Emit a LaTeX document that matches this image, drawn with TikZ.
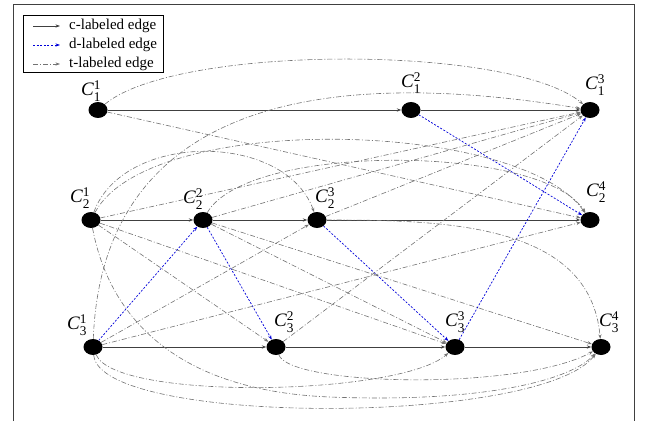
\documentclass[tikz,border=0pt]{standalone}
\usepackage{amsmath}
\usepackage{fontspec}
\setmainfont{Liberation Serif}
\usetikzlibrary{shapes.geometric,arrows.meta}
\newcommand{\Clab}[2]{\textit{C}$^{\text{#1}}_{\text{#2}}$}
\begin{document}
\begin{tikzpicture}[x=1pt,y=1pt,
 vert/.style={ellipse,fill=black,minimum width=19pt,minimum height=16pt,inner sep=0pt},
 lab/.style={font=\fontsize{19}{20}\selectfont,inner sep=0pt},
 tip/.style={-{Stealth[length=4.5pt,width=3.2pt]}},
 cedge/.style={draw=black!75,line width=0.7pt,tip},
 dedge/.style={draw=blue!85!black,line width=0.7pt,dash pattern=on 2pt off 1.6pt,tip},
 tedge/.style={draw=black!55,line width=0.6pt,dash pattern=on 5pt off 2pt on 1pt off 2pt,tip},
 legtext/.style={font=\fontsize{15}{16}\selectfont,anchor=west,inner sep=0pt}]
\useasboundingbox (0,0) rectangle (647,421);
% frame
\coordinate (fa) at (13,0); \coordinate (fb) at (13,417);
\coordinate (fc) at (634,417); \coordinate (fd) at (634,0);
\draw[black!75,line width=0.9pt] (fa) -- (fb) -- (fc) -- (fd);
% legend
\node[draw=black,line width=0.8pt,minimum width=140pt,minimum height=57pt,inner sep=0pt] (legend) at (93,377.5) {};
\coordinate (la1) at (33,395); \coordinate (lb1) at (60,395);
\coordinate (la2) at (33,376); \coordinate (lb2) at (60,376);
\coordinate (la3) at (33,357); \coordinate (lb3) at (60,357);
\draw[cedge] (la1) -- (lb1);
\draw[dedge] (la2) -- (lb2);
\draw[tedge] (la3) -- (lb3);
\node[legtext] (lt1) at (69,395) {c-labeled edge};
\node[legtext] (lt2) at (69,376) {d-labeled edge};
\node[legtext] (lt3) at (69,357) {t-labeled edge};
% vertices
\node[vert] (C11) at (98,311) {};
\node[vert] (C12) at (411,311) {};
\node[vert] (C13) at (590,311) {};
\node[vert] (C21) at (91,201) {};
\node[vert] (C22) at (203,201) {};
\node[vert] (C23) at (317,201) {};
\node[vert] (C24) at (590,201) {};
\node[vert] (C31) at (93,74) {};
\node[vert] (C32) at (276,74) {};
\node[vert] (C33) at (455,74) {};
\node[vert] (C34) at (601,74) {};
% labels
\node[lab] (L11) at ([shift={(-7,19)}]C11) {\Clab{1}{1}};
\node[lab] (L12) at ([shift={(0,27)}]C12) {\Clab{2}{1}};
\node[lab] (L13) at ([shift={(5,25)}]C13) {\Clab{3}{1}};
\node[lab] (L21) at ([shift={(-11,22)}]C21) {\Clab{1}{2}};
\node[lab] (L22) at ([shift={(-10,21)}]C22) {\Clab{2}{2}};
\node[lab] (L23) at ([shift={(8,22)}]C23) {\Clab{3}{2}};
\node[lab] (L24) at ([shift={(6,28)}]C24) {\Clab{4}{2}};
\node[lab] (L31) at ([shift={(-16,22)}]C31) {\Clab{1}{3}};
\node[lab] (L32) at ([shift={(8,25)}]C32) {\Clab{2}{3}};
\node[lab] (L33) at ([shift={(0,25)}]C33) {\Clab{3}{3}};
\node[lab] (L34) at ([shift={(8,25)}]C34) {\Clab{4}{3}};
% c-labeled edges
\draw[cedge] (C11) -- (C12);
\draw[cedge] (C12) -- (C13);
\draw[cedge] (C21) -- (C22);
\draw[cedge] (C22) -- (C23);
\draw[cedge] (C23) -- (C24);
\draw[cedge] (C31) -- (C32);
\draw[cedge] (C32) -- (C33);
\draw[cedge] (C33) -- (C34);
% d-labeled edges
\draw[dedge] (C12) -- (C24);
\draw[dedge] (C31) -- (C22);
\draw[dedge] (C22) -- (C32);
\draw[dedge] (C23) -- (C33);
\draw[dedge] (C33) -- (C13);
% t-labeled edges
\draw[tedge] (C11) to[out=40,in=140,looseness=0.5] (C13);
\draw[tedge] (C11) -- (C24);
\draw[tedge] (C21) to[out=70,in=110] (C23);
\draw[tedge] (C21) to[out=62,in=125,looseness=0.6] (C24);
\draw[tedge] (C21) -- (C32);
\draw[tedge] (C21) -- (C33);
\draw[tedge] (C21) .. controls (110,100) and (180,30) .. (330,24) .. controls (480,18) and (570,40) .. (C34);
\draw[tedge] (C21) -- (C13);
\draw[tedge] (C22) to[out=60,in=122,looseness=0.55] (C24);
\draw[tedge] (C22) -- (C33);
\draw[tedge] (C22) -- (C34);
\draw[tedge] (C22) -- (C13);
\draw[tedge] (C23) to[out=0,in=95] (C34);
\draw[tedge] (C23) -- (C13);
\draw[tedge] (C31) .. controls (115,20) and (400,25) .. (C33);
\draw[tedge] (C31) .. controls (100,-5) and (540,-5) .. (C34);
\draw[tedge] (C31) -- (C23);
\draw[tedge] (C31) -- (C24);
\draw[tedge] (C31) .. controls (100,260) and (230,370) .. (C13);
\draw[tedge] (C32) .. controls (290,35) and (520,30) .. (C34);
\draw[tedge] (C32) -- (C13);
\end{tikzpicture}
\end{document}
